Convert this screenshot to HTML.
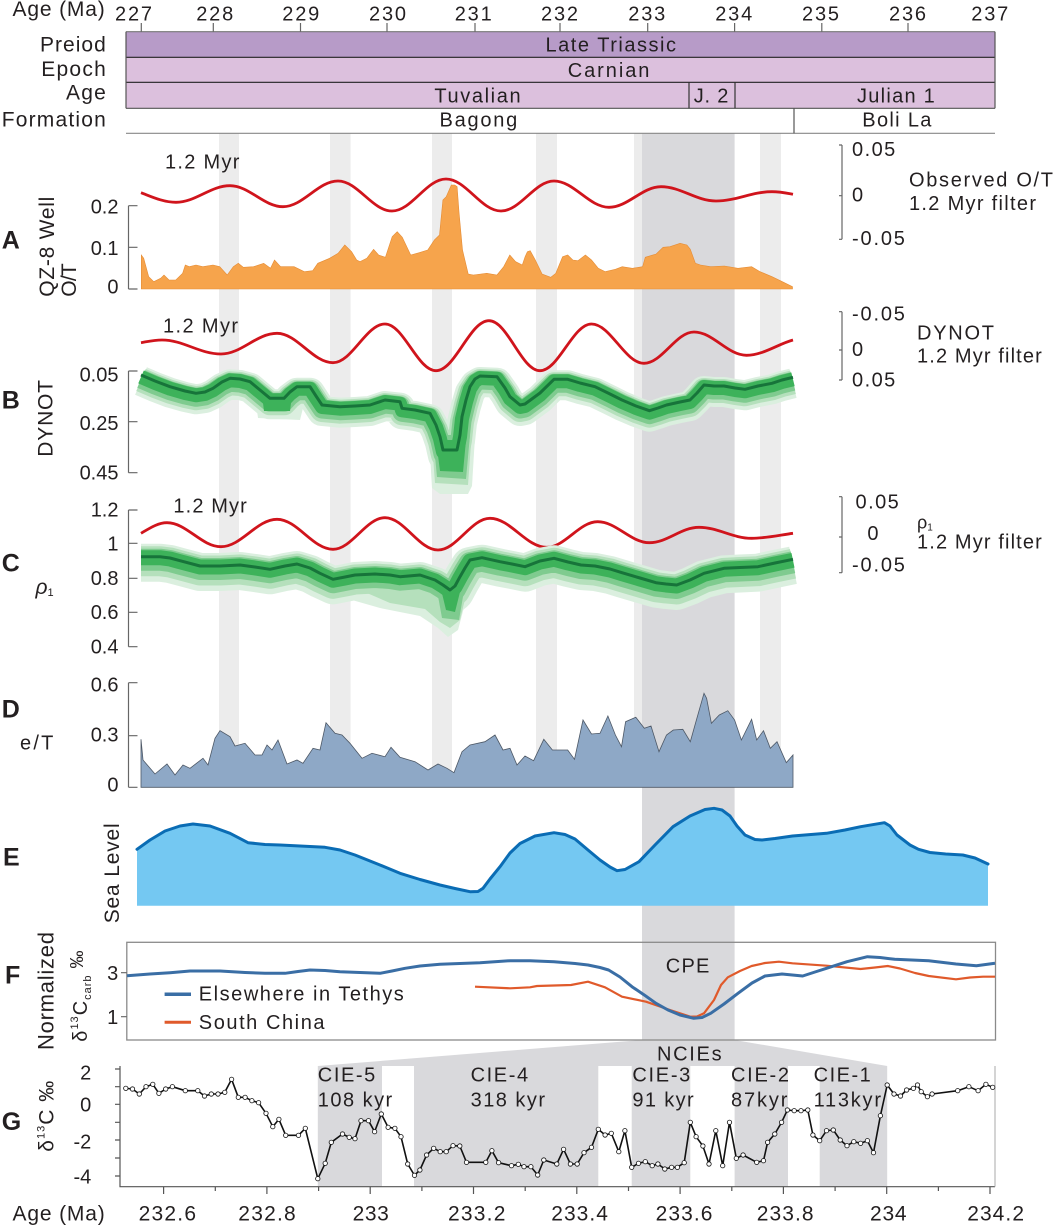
<!DOCTYPE html>
<html><head><meta charset="utf-8">
<style>
html,body{margin:0;padding:0;background:#fff}
svg{display:block}
text{font-family:"Liberation Sans",Arial,sans-serif;fill:#231f20}
.b{font-weight:bold;font-size:25px}
</style></head><body>
<svg width="1054" height="1227" viewBox="0 0 1054 1227" xmlns="http://www.w3.org/2000/svg">
<defs>
<marker id="m" markerWidth="6" markerHeight="6" refX="3" refY="3" markerUnits="userSpaceOnUse"><circle cx="3" cy="3" r="2.2" fill="#fff" stroke="#111" stroke-width="0.8"/></marker>
</defs>
<rect width="1054" height="1227" fill="#fff"/>

<!-- background bands -->
<g fill="#ececec">
<rect x="219" y="133.3" width="20" height="654"/>
<rect x="330" y="133.3" width="20.6" height="654"/>
<rect x="432" y="133.3" width="20" height="654"/>
<rect x="536" y="133.3" width="21" height="654"/>
<rect x="634" y="133.3" width="21" height="654"/>
<rect x="760" y="133.3" width="21" height="654"/>
</g>
<g fill="#d9d9dc">
<rect x="642" y="133.3" width="92.6" height="906.7"/>
<polygon points="642,1040 734.6,1040 887.2,1066 317.8,1066"/>
<rect x="317.8" y="1066" width="64.2" height="120.7"/>
<rect x="414" y="1066" width="184.3" height="120.7"/>
<rect x="631.7" y="1066" width="58.6" height="120.7"/>
<rect x="734.6" y="1066" width="53.4" height="120.7"/>
<rect x="819.7" y="1066" width="67.5" height="120.7"/>
</g>

<!-- top strip -->
<rect x="126" y="31.7" width="869" height="25.6" fill="#b79bc8"/>
<rect x="126" y="57.3" width="869" height="51" fill="#dcc0dd"/>
<g stroke-width="1.2" fill="none">
<line x1="126" y1="31.7" x2="995" y2="31.7" stroke="#777"/>
<line x1="126" y1="57.3" x2="995" y2="57.3" stroke="#222"/>
<line x1="126" y1="82.3" x2="995" y2="82.3" stroke="#222"/>
<line x1="126" y1="108.3" x2="995" y2="108.3" stroke="#555"/>
<line x1="126" y1="31.7" x2="126" y2="108.3" stroke="#555"/>
<line x1="995" y1="31.7" x2="995" y2="108.3" stroke="#555"/>
<line x1="689" y1="82.3" x2="689" y2="108.3" stroke="#333"/>
<line x1="735" y1="82.3" x2="735" y2="108.3" stroke="#333"/>
<line x1="126" y1="133.3" x2="995" y2="133.3" stroke="#888"/>
<line x1="794" y1="108.3" x2="794" y2="133.3" stroke="#555"/>
<path d="M141.3 23V31.7M213.3 23V31.7M300.5 23V31.7M387 23V31.7M475 23V31.7M560 23V31.7M647.7 23V31.7M734.6 23V31.7M821.8 23V31.7M908 23V31.7" stroke="#666"/>
</g>
<g font-size="20">
<text x="12.5" y="16" textLength="92.3" font-size="21">Age (Ma)</text>
<text x="115" y="20.5" textLength="37">227</text>
<text x="196.2" y="20.5" textLength="37">228</text>
<text x="282.3" y="20.5" textLength="37">229</text>
<text x="369" y="20.5" textLength="37">230</text>
<text x="454.7" y="20.5" textLength="37">231</text>
<text x="541" y="20.5" textLength="37">232</text>
<text x="628.3" y="20.5" textLength="37">233</text>
<text x="715.2" y="20.5" textLength="37">234</text>
<text x="802" y="20.5" textLength="37">235</text>
<text x="889" y="20.5" textLength="37">236</text>
<text x="971.3" y="20.5" textLength="37">237</text>
<text x="40" y="51.7" textLength="65.8" font-size="21">Preiod</text>
<text x="41.2" y="76" textLength="64.6" font-size="21">Epoch</text>
<text x="66" y="99.3" textLength="39.8" font-size="21">Age</text>
<text x="1.7" y="126.7" textLength="104.1" font-size="21">Formation</text>
<text x="545.5" y="51.7" textLength="130.5">Late Triassic</text>
<text x="567.7" y="77" textLength="81.7">Carnian</text>
<text x="434.4" y="102.7" textLength="86.2">Tuvalian</text>
<text x="693.7" y="102.7" textLength="34.7">J. 2</text>
<text x="857" y="102.7" textLength="77.8">Julian 1</text>
<text x="439.5" y="126.7" textLength="77.7">Bagong</text>
<text x="862.3" y="126.7" textLength="69.1">Boli La</text>
</g>

<!-- left axes A-D -->
<g stroke="#666" stroke-width="1.2" fill="none">
<path d="M128.5 205.7V289M128.5 205.7H137.5M128.5 247.3H137.5M128.5 289H137.5"/>
<path d="M128.5 371V472.7M128.5 371H137.5M128.5 421.7H137.5M128.5 472.7H137.5"/>
<path d="M128.5 510V646.7M128.5 510H137.5M128.5 543.3H137.5M128.5 578.3H137.5M128.5 612.3H137.5M128.5 646.7H137.5"/>
<path d="M128.5 682.7V787.3M128.5 682.7H137.5M128.5 735.7H137.5M128.5 787.3H137.5"/>
<path d="M842 145V239.3M839 145H842M839 195.7H842M839 239.3H842"/>
<path d="M842 311.7V380M839 311.7H842M839 350H842M839 380H842"/>
<path d="M842 496.7V572.7M839 496.7H842M839 537H842M839 572.7H842"/>
</g>
<g font-size="20" text-anchor="end">
<text x="118.5" y="213.3">0.2</text>
<text x="118.5" y="255">0.1</text>
<text x="118.5" y="293.3">0</text>
<text x="118.5" y="381.7">0.05</text>
<text x="118.5" y="430">0.25</text>
<text x="118.5" y="479.3">0.45</text>
<text x="118.5" y="516.7">1.2</text>
<text x="118.5" y="550.7">1</text>
<text x="118.5" y="585">0.8</text>
<text x="118.5" y="619">0.6</text>
<text x="118.5" y="653.7">0.4</text>
<text x="118.5" y="691.7">0.6</text>
<text x="118.5" y="741.7">0.3</text>
<text x="118.5" y="791.7">0</text>
</g>

<!-- panel letters -->
<text class="b" x="1.7" y="248.3">A</text>
<text class="b" x="1.7" y="408.3">B</text>
<text class="b" x="1.7" y="571.7">C</text>
<text class="b" x="1.7" y="717.3">D</text>
<text class="b" x="3" y="865.7">E</text>
<text class="b" x="5" y="983.3">F</text>
<text class="b" x="1.7" y="1130">G</text>

<!-- rotated labels -->
<g font-size="21">
<text transform="translate(54,296.7) rotate(-90)" textLength="100">QZ-8 Well</text>
<text transform="translate(76,296.7) rotate(-90)" textLength="33.4">O/T</text>
<text transform="translate(52.4,456.7) rotate(-90)" textLength="76.7">DYNOT</text>
<text transform="translate(119,923.3) rotate(-90)" textLength="100">Sea Level</text>
<text transform="translate(53.3,1050) rotate(-90)" textLength="118" font-size="22">Normalized</text>
<text transform="translate(87,1041.7) rotate(-90)" font-size="20" letter-spacing="1">δ<tspan font-size="11" dy="-9">13</tspan><tspan dy="9">C</tspan><tspan font-size="11" dy="4">carb</tspan><tspan dy="-8" font-size="18"> ‰</tspan></text>
<text transform="translate(53.3,1151.7) rotate(-90)" font-size="21" letter-spacing="1">δ<tspan font-size="11" dy="-9">13</tspan><tspan dy="9">C ‰</tspan></text>
</g>
<text x="20" y="749.3" font-size="20" textLength="33.4">e/T</text>
<text x="35.5" y="594" font-size="21" font-style="italic">ρ<tspan font-size="11" font-style="normal" dy="2">1</tspan></text>

<!-- Panel A -->
<polygon fill="#f6a44c" stroke="#e58c35" stroke-width="0.6" points="141.3,289 141.3,255 143.7,258.3 148.7,276.7 153.8,281.7 160.6,278.3 164,275 169,280 175.8,280 182.6,273.3 185.3,265 189.3,266.7 196,265 202.8,266.7 213,265 219.7,266.7 227.2,275 233.3,266.7 238.3,263.3 243.4,267.3 253.5,266.7 263.7,263.3 270.5,268.3 274.5,260 280.6,266.7 294.1,266.7 304.3,271.7 312.7,270.7 317.8,263.3 329.6,258.3 338.1,253.3 344.8,245 351.6,251.7 356.7,260 360,261.7 366.8,258.3 373.6,249.3 378.6,255 385.4,257.3 392.2,236.7 397.2,231.7 402.3,237.3 410.7,255 419.2,252.7 427.7,250 434.4,240 439.5,235 442.9,200 446.2,196.7 451.3,185 454.7,185 457.1,186.7 459.1,213.3 462.5,250 468.2,274 473.3,275 486.8,273.3 497,275 503.7,266.7 509.8,255 515.6,261.7 522.3,265 525.1,256.7 527.4,251.7 530.2,250.7 535.3,260 542.1,274 550.7,277.3 555.8,273.3 562.6,256.7 567.7,255 572.8,260 577.9,260.7 585.4,255 591.5,260 598.3,268.3 605.1,271.7 615.4,269.3 622.2,266.7 632.4,268.3 642.6,266.7 645.3,257.3 656.2,254 663.1,247.3 669.9,246.7 680.1,243.3 686.9,245 690.3,249.3 695.4,263.3 700.5,265 710.7,266.7 724.4,266 738,268.3 751.6,266.7 760.1,271.7 772,276.7 782.3,281.7 792.5,286.7 792.5,289"/>
<g fill="none" stroke="#d0141c" stroke-width="2.8">
<path d="M141 192.7C150 196 163 202.3 176 202.3C195.7 202.3 210.3 185.7 230 185.7C249.3 185.7 263.7 206.7 283 206.7C303 206.7 318 181 338 181C357.7 181 372.3 211 392 211C411.7 211 426.3 179 446 179C466 179 481 211 501 211C520.3 211 534.7 181 554 181C574 181 589 207.3 609 207.3C627.9 207.3 642.1 186.7 661 186.7C681 186.7 696 201 716 201C736.4 201 751.6 191.7 772 191.7C780 191.7 786 193 793 194.3"/>
<path d="M141 342.7C148 341.5 154 340 162 340C183.5 340 199.5 354 221 354C241.4 354 256.6 333.3 277 333.3C297.4 333.3 312.6 362.7 333 362.7C351.9 362.7 366.1 324 385 324C403.6 324 417.4 370.7 436 370.7C455.3 370.7 469.7 320.7 489 320.7C507.6 320.7 521.4 370.7 540 370.7C558.7 370.7 572.8 324 591.5 324C610.6 324 624.9 363.3 644 363.3C662.2 363.3 675.8 332 694 332C713.1 332 727.4 355.3 746.5 355.3C763 355.3 778 344 793 340"/>
<path d="M141 533.3C150 528 158 522.7 167 522.7C186.7 522.7 201.3 546.7 221 546.7C241.4 546.7 256.6 519.3 277 519.3C297.4 519.3 312.6 549.3 333 549.3C351.9 549.3 366.1 517.7 385 517.7C404.3 517.7 418.7 550 438 550C456.9 550 471.1 518.3 490 518.3C510.6 518.3 526 547.3 546.6 547.3C565.2 547.3 579.1 521.7 597.7 521.7C616.5 521.7 630.6 542.7 649.4 542.7C667.5 542.7 680.9 527.3 699 527.3C718.1 527.3 732.5 538.3 751.6 538.3C766 538.3 780 535 793 533.3"/>
</g>
<g font-size="20">
<text x="165" y="168.3" textLength="74.4">1.2 Myr</text>
<text x="163" y="332.3" textLength="75">1.2 Myr</text>
<text x="173.4" y="512.7" textLength="73.4">1.2 Myr</text>
<text x="852" y="156" textLength="43.3">0.05</text>
<text x="852" y="201.7">0</text>
<text x="852" y="245" textLength="52.9">-0.05</text>
<text x="909" y="186.7" textLength="144">Observed O/T</text>
<text x="909" y="210" textLength="127">1.2 Myr filter</text>
<text x="852" y="320.7" textLength="52.9">-0.05</text>
<text x="852" y="356">0</text>
<text x="852" y="386.7" textLength="43.3">0.05</text>
<text x="917" y="339.3" textLength="77">DYNOT</text>
<text x="917" y="362.3" textLength="124.8">1.2 Myr filter</text>
<text x="855.5" y="508.3" textLength="43.3">0.05</text>
<text x="867.4" y="540">0</text>
<text x="852" y="571.7" textLength="52.9">-0.05</text>
<text x="917" y="528.3" font-size="18">ρ<tspan font-size="10" dy="2">1</tspan></text>
<text x="917" y="548.3" textLength="124.8">1.2 Myr filter</text>
</g>

<!-- Panel B bands -->
<g fill="none" stroke-linejoin="round" stroke-linecap="butt">
<g transform="translate(0,6)"><polyline stroke="#dbefdf" stroke-width="30" points="141,375 155,381 170,386.7 185,391 196,393.3 205,392 213,388.3 222,382 230,378.3 240,379 250,381.7 260,390 270,398.3 284,398.3 290,392 297,386.7 310,386.7 316,396 322,405 340,406.7 355,406 370,405 385,400 400,401.7 402,408.3 415,410 430,413.3 436,425 440,436.7 443,450 457,450 460,435 462,416.7 466,400 470,386.7 475,379 480,376 497,376.7 505,388 510,396.7 520,405 525,404 540,393 554,379.3 567.7,379.3 580,383 595,386.7 610,394 622,400 636,406 649.4,410.7 658,408 666.5,405 680,402 690,400 697,393 704,385 714,386 724,386 735,388 745,389.3 758,386 772,383.3 782,380 793,377.3"/></g>
<polygon fill="#dbefdf" stroke="none" points="428,420 432,488 440,494 468,494 472,486 476,420"/>
<polygon fill="#dbefdf" stroke="none" points="255,395 258,418 300,420 305,400"/>
<g transform="translate(0,5)"><polyline stroke="#b5e0bc" stroke-width="24" points="141,375 155,381 170,386.7 185,391 196,393.3 205,392 213,388.3 222,382 230,378.3 240,379 250,381.7 260,390 270,398.3 284,398.3 290,392 297,386.7 310,386.7 316,396 322,405 340,406.7 355,406 370,405 385,400 400,401.7 402,408.3 415,410 430,413.3 436,425 440,436.7 443,450 457,450 460,435 462,416.7 466,400 470,386.7 475,379 480,376 497,376.7 505,388 510,396.7 520,405 525,404 540,393 554,379.3 567.7,379.3 580,383 595,386.7 610,394 622,400 636,406 649.4,410.7 658,408 666.5,405 680,402 690,400 697,393 704,385 714,386 724,386 735,388 745,389.3 758,386 772,383.3 782,380 793,377.3"/></g>
<polygon fill="#b5e0bc" stroke="none" points="431,430 435,483 468,485 472,430"/>
<g transform="translate(0,4)"><polyline stroke="#7fcb8f" stroke-width="19" points="141,375 155,381 170,386.7 185,391 196,393.3 205,392 213,388.3 222,382 230,378.3 240,379 250,381.7 260,390 270,398.3 284,398.3 290,392 297,386.7 310,386.7 316,396 322,405 340,406.7 355,406 370,405 385,400 400,401.7 402,408.3 415,410 430,413.3 436,425 440,436.7 443,450 457,450 460,435 462,416.7 466,400 470,386.7 475,379 480,376 497,376.7 505,388 510,396.7 520,405 525,404 540,393 554,379.3 567.7,379.3 580,383 595,386.7 610,394 622,400 636,406 649.4,410.7 658,408 666.5,405 680,402 690,400 697,393 704,385 714,386 724,386 735,388 745,389.3 758,386 772,383.3 782,380 793,377.3"/></g>
<polygon fill="#7fcb8f" stroke="none" points="433,435 437,477 466,479 470,435"/>
<g transform="translate(0,2)"><polyline stroke="#3db25a" stroke-width="14" points="141,375 155,381 170,386.7 185,391 196,393.3 205,392 213,388.3 222,382 230,378.3 240,379 250,381.7 260,390 270,398.3 284,398.3 290,392 297,386.7 310,386.7 316,396 322,405 340,406.7 355,406 370,405 385,400 400,401.7 402,408.3 415,410 430,413.3 436,425 440,436.7 443,450 457,450 460,435 462,416.7 466,400 470,386.7 475,379 480,376 497,376.7 505,388 510,396.7 520,405 525,404 540,393 554,379.3 567.7,379.3 580,383 595,386.7 610,394 622,400 636,406 649.4,410.7 658,408 666.5,405 680,402 690,400 697,393 704,385 714,386 724,386 735,388 745,389.3 758,386 772,383.3 782,380 793,377.3"/></g>
<polygon fill="#3db25a" stroke="none" points="436,440 440,471 463,472 466,440"/>
<polygon fill="#3db25a" stroke="none" points="262,395 264,411 290,411 292,395"/>
<polyline stroke="#17743a" stroke-width="3" points="141,375 155,381 170,386.7 185,391 196,393.3 205,392 213,388.3 222,382 230,378.3 240,379 250,381.7 260,390 270,398.3 284,398.3 290,392 297,386.7 310,386.7 316,396 322,405 340,406.7 355,406 370,405 385,400 400,401.7 402,408.3 415,410 430,413.3 436,425 440,436.7 443,450 457,450 460,435 462,416.7 466,400 470,386.7 475,379 480,376 497,376.7 505,388 510,396.7 520,405 525,404 540,393 554,379.3 567.7,379.3 580,383 595,386.7 610,394 622,400 636,406 649.4,410.7 658,408 666.5,405 680,402 690,400 697,393 704,385 714,386 724,386 735,388 745,389.3 758,386 772,383.3 782,380 793,377.3"/>
</g>

<!-- Panel C bands -->
<g fill="none" stroke-linejoin="round" stroke-linecap="butt">
<polygon fill="#dbefdf" stroke="none" points="320,588 345,598 380,608 420,616 438,628 448,637 458,630 466,600 470,575 320,575"/>
<g transform="translate(0,6)"><polyline stroke="#dbefdf" stroke-width="38" points="141,556.7 160,556.7 170,558 180,560.7 200,566 220,566 240,565 255,567 270,569.3 285,566 297,564 310,568 320,573.3 333,579.3 345,577 355,575 375,574 390,575 400,576.7 420,575 435,580 443,585 450,590 455,586 460,576.7 465,568 470,560 482,557.7 500,561.7 512,564 525,566.7 540,561 554,558.3 568,562 581,565 595,566 610,569 622,572.7 640,578 656,582.7 666,584 676.7,585 690,580 704,573.3 724,568.3 740,567.5 758,566.7 775,563 793,559.3"/></g>
<polygon fill="#b5e0bc" stroke="none" points="360,590 390,603 425,609 440,622 450,628 460,620 466,595"/>
<g transform="translate(0,4.5)"><polyline stroke="#b5e0bc" stroke-width="30" points="141,556.7 160,556.7 170,558 180,560.7 200,566 220,566 240,565 255,567 270,569.3 285,566 297,564 310,568 320,573.3 333,579.3 345,577 355,575 375,574 390,575 400,576.7 420,575 435,580 443,585 450,590 455,586 460,576.7 465,568 470,560 482,557.7 500,561.7 512,564 525,566.7 540,561 554,558.3 568,562 581,565 595,566 610,569 622,572.7 640,578 656,582.7 666,584 676.7,585 690,580 704,573.3 724,568.3 740,567.5 758,566.7 775,563 793,559.3"/></g>
<g transform="translate(0,3)"><polyline stroke="#7fcb8f" stroke-width="22" points="141,556.7 160,556.7 170,558 180,560.7 200,566 220,566 240,565 255,567 270,569.3 285,566 297,564 310,568 320,573.3 333,579.3 345,577 355,575 375,574 390,575 400,576.7 420,575 435,580 443,585 450,590 455,586 460,576.7 465,568 470,560 482,557.7 500,561.7 512,564 525,566.7 540,561 554,558.3 568,562 581,565 595,566 610,569 622,572.7 640,578 656,582.7 666,584 676.7,585 690,580 704,573.3 724,568.3 740,567.5 758,566.7 775,563 793,559.3"/></g>
<polygon fill="#7fcb8f" stroke="none" points="436,585 442,618 459,620 465,585"/>
<g transform="translate(0,1)"><polyline stroke="#3db25a" stroke-width="15" points="141,556.7 160,556.7 170,558 180,560.7 200,566 220,566 240,565 255,567 270,569.3 285,566 297,564 310,568 320,573.3 333,579.3 345,577 355,575 375,574 390,575 400,576.7 420,575 435,580 443,585 450,590 455,586 460,576.7 465,568 470,560 482,557.7 500,561.7 512,564 525,566.7 540,561 554,558.3 568,562 581,565 595,566 610,569 622,572.7 640,578 656,582.7 666,584 676.7,585 690,580 704,573.3 724,568.3 740,567.5 758,566.7 775,563 793,559.3"/></g>
<polygon fill="#3db25a" stroke="none" points="440,585 446,610 455,612 461,588"/>
<polyline stroke="#17743a" stroke-width="3" points="141,556.7 160,556.7 170,558 180,560.7 200,566 220,566 240,565 255,567 270,569.3 285,566 297,564 310,568 320,573.3 333,579.3 345,577 355,575 375,574 390,575 400,576.7 420,575 435,580 443,585 450,590 455,586 460,576.7 465,568 470,560 482,557.7 500,561.7 512,564 525,566.7 540,561 554,558.3 568,562 581,565 595,566 610,569 622,572.7 640,578 656,582.7 666,584 676.7,585 690,580 704,573.3 724,568.3 740,567.5 758,566.7 775,563 793,559.3"/>
</g>

<!-- Panel D -->
<polygon fill="#8ea8c6" stroke="#4d5866" stroke-width="0.8" points="141,787.3 141,739.3 143,760 155,774 167,764 175,775 183,765 190,768.3 203,758.3 208,765 215,738.3 220,730.7 230,736.7 235,746 245,743.3 255,755 262,755 267,745 272,750 278,740 287,764 297,760 303,763.3 313,748.3 320,750 326,722.7 335,733.3 342,735 350,743.3 362,758.3 372,753.3 385,756.7 391,747.3 400,757.3 415,761.7 428,770 438,764 447,768.3 454,772.7 462,751.7 470,745 485,741.7 495,735 503,750 510,748.3 517,765 525,756 533.6,760.7 543.8,739.3 552.4,750 567.7,750 574.5,759.3 583,720 591.5,734 600,733.3 607.9,716 615.4,735 621.5,746.7 625.6,721.7 635.8,717.3 644.3,728.3 651,726 659,751.7 666.5,735 673.3,730 682.8,729.3 690.3,741.7 696.4,720 704,693.3 706.6,698.3 711.4,723.3 719.3,715 727.8,710.7 734.6,720 741.4,740 751.6,719.3 756.7,740 763.5,730.7 770.3,748.3 777,741.7 786.3,762.7 793,755 793,787.3"/>

<!-- Panel E -->
<polygon fill="#74c8f2" points="137,905.7 137,849.3 150,840 165,831 180,826 193,824 210,826 230,833.3 248,842.7 265,844.5 280,845 325,847.3 340,850 355,855 380,865 400,873.3 420,879.5 440,885 455,888.5 470,891.7 478,891.5 483,888.3 490,879 500,866.7 510,853 520,843.5 535,836 554,832.7 565,834.5 575,839 588,850 600,860 610,867 617,870.7 625,869.5 639,861.7 655,845 673,826.7 690,816 705,809.5 714,808.3 722,810 730,816 737,826 745,835 755,839.5 762,840 775,838.5 792.5,836 826.5,833.3 845,830 860.6,826.7 884.4,822.7 890,826 897,835 910,845 918.5,849.3 930,852.5 945.7,854 962.8,855 975,858 988,864 988,905.7"/>
<polyline fill="none" stroke="#0a6cb4" stroke-width="3" stroke-linejoin="round" stroke-linecap="round" points="137,849.3 150,840 165,831 180,826 193,824 210,826 230,833.3 248,842.7 265,844.5 280,845 325,847.3 340,850 355,855 380,865 400,873.3 420,879.5 440,885 455,888.5 470,891.7 478,891.5 483,888.3 490,879 500,866.7 510,853 520,843.5 535,836 554,832.7 565,834.5 575,839 588,850 600,860 610,867 617,870.7 625,869.5 639,861.7 655,845 673,826.7 690,816 705,809.5 714,808.3 722,810 730,816 737,826 745,835 755,839.5 762,840 775,838.5 792.5,836 826.5,833.3 845,830 860.6,826.7 884.4,822.7 890,826 897,835 910,845 918.5,849.3 930,852.5 945.7,854 962.8,855 975,858 988,864"/>

<!-- Panel F -->
<rect x="126.8" y="942.3" width="868.7" height="97.7" fill="none" stroke="#8a8a8a" stroke-width="1.3"/>
<path d="M121 972.7H126.8M121 1016.7H126.8" stroke="#666" stroke-width="1.2"/>
<g font-size="20" text-anchor="end">
<text x="118.3" y="980">3</text>
<text x="118.3" y="1024">1</text>
</g>
<polyline fill="none" stroke="#e05a2b" stroke-width="2.2" stroke-linejoin="round" points="475,986.7 510,988.3 530,987.3 537,986 571,985 588,981.7 605,987.3 622,996.7 646,1001.7 670,1010 690.3,1016.7 697,1016.5 704,1013.3 714,1000 721,985 727.8,977.3 740,971 751.6,966 765,963 778.9,961.7 792.5,963.3 826.5,965.7 860.6,969 875,967.5 887.8,966 900,968.5 915,973 928.7,976 956,979.3 970,977.5 983,976.7 995,976.7"/>
<polyline fill="none" stroke="#3a6ea5" stroke-width="3" stroke-linejoin="round" points="127,975.7 150,974 170,972.7 190,971 220,971 245,972.5 265,973.3 285,973.3 298,971.5 310,970 325,970.5 340,971.7 360,972.5 380,973.3 392,971 405,968.3 420,966 440,964.3 460,963.5 480,962.7 510,960.7 530,960.7 554,961.7 575,963.5 588,965 600,967.5 608.6,970 620,977 632,986.7 645,995.5 656,1003.3 668,1010 680,1015 693.7,1018.3 702,1017.5 710.7,1013.3 724,1004 738,993.3 752,983 765,976 782,974 802.7,976 815,972 826.5,968.3 847,961.7 867.4,956.7 880,957.5 894.7,959.3 928.7,960.7 956,964 976.4,965.7 995,963.3"/>
<line x1="164.6" y1="994.3" x2="191" y2="994.3" stroke="#3a6ea5" stroke-width="3.5"/>
<line x1="164.6" y1="1022.3" x2="191" y2="1022.3" stroke="#e05a2b" stroke-width="3"/>
<g font-size="20">
<text x="198.8" y="1000.7" textLength="205">Elsewhere in Tethys</text>
<text x="198.8" y="1029" textLength="125.7">South China</text>
<text x="665.8" y="972.3" textLength="43.6">CPE</text>
<text x="657" y="1060.7" textLength="64.6">NCIEs</text>
</g>

<!-- Panel G -->
<g stroke="#555" stroke-width="1.2" fill="none">
<path d="M120 1066V1186.7H995"/>
<path d="M115 1069H120M115 1086.7H120M115 1104.3H120M115 1122.3H120M115 1140H120M115 1158H120M115 1176H120"/>
<path d="M163.6 1186.7V1194M266.9 1186.7V1194M370.2 1186.7V1194M473.5 1186.7V1194M576.8 1186.7V1194M680.1 1186.7V1194M783.4 1186.7V1194M886.7 1186.7V1194M990 1186.7V1194"/>
<path d="M215.3 1186.7V1191M318.6 1186.7V1191M421.9 1186.7V1191M525.2 1186.7V1191M628.5 1186.7V1191M731.8 1186.7V1191M835.1 1186.7V1191M938.4 1186.7V1191"/>
</g>
<line x1="995" y1="1066" x2="995" y2="1186.7" stroke="#aaa" stroke-width="1"/>
<polyline fill="none" stroke="#111" stroke-width="1.6" stroke-linejoin="round" marker-start="url(#m)" marker-mid="url(#m)" marker-end="url(#m)" points="125.8,1088.3 132.5,1089 139.3,1094 146,1086.7 152.8,1084.3 158.9,1093.3 165.7,1089 172.4,1086.7 185.3,1090.7 197.8,1090.7 204.5,1096 211.3,1094 218,1094 224.8,1092.3 231.6,1079.3 238.3,1097.3 245.1,1097.3 251.9,1100.7 258.6,1102.7 266,1113.3 272.8,1126.7 278.9,1119.3 285.7,1135.3 298.5,1135.3 305.3,1128.3 317.8,1178.7 325.2,1163.3 331.3,1142.3 342.5,1134 349.2,1137.3 355,1138.7 361,1120.7 368.5,1120.7 374.6,1131.7 381.3,1114 388.1,1127.3 394.9,1128.3 401,1136.7 407.7,1164 414.5,1175.3 419.9,1170 426.6,1155 433.7,1148.3 440.2,1151.7 446.2,1151.7 453,1145.7 459.8,1146 466.5,1162.3 485.8,1162.3 491.9,1150.7 498.6,1162.7 511.5,1165.7 518.3,1164.3 524,1166.7 530.9,1166.7 537.7,1175 543.8,1160 556.8,1164 563.6,1149.3 570.4,1164 577.2,1164 584,1152.7 591.5,1147.3 598.3,1129.3 605.1,1135 611.3,1133.3 618.8,1151.7 624.9,1130.7 631.7,1167.3 638.5,1163.3 645.3,1161.7 652.2,1165.7 657.9,1164 664.8,1169 671.6,1167.3 677.4,1167.3 684.2,1162.7 690.3,1122.3 696.1,1136.7 702.9,1146 709,1164 715.8,1130.7 722.7,1165.7 729.5,1122.3 736.3,1158.3 743.1,1155 756.7,1162.3 763.5,1160.7 767.6,1142.3 774.8,1134 781.6,1122.3 787.4,1110 794.2,1110.7 801,1110.7 807.8,1110 812.9,1135 819.7,1140.7 826.5,1130.7 833.3,1130 840.2,1140 847,1145.7 853.8,1141.7 860.6,1143.3 867.4,1140.7 873.5,1152.7 880.4,1115.7 887.2,1085 894,1094 900.5,1096 906.6,1090 913.4,1088.3 917.5,1085 921.2,1091.7 927.4,1096.7 932.1,1094 957.7,1090.7 968.9,1086.7 978.1,1090.7 985.9,1084.3 992.7,1087.3"/>
<g font-size="20" text-anchor="end">
<text x="91.3" y="1079.3">2</text>
<text x="91.3" y="1111.7">0</text>
<text x="91.3" y="1148.3">-2</text>
<text x="91.3" y="1183.3">-4</text>
</g>
<g font-size="20">
<text x="317.8" y="1081.7" textLength="57.5">CIE-5</text>
<text x="317.8" y="1106.7" textLength="74.4">108 kyr</text>
<text x="470.6" y="1081.7" textLength="57.5">CIE-4</text>
<text x="470.6" y="1106.7" textLength="74.4">318 kyr</text>
<text x="632.4" y="1081.7" textLength="57.9">CIE-3</text>
<text x="632.4" y="1106.7" textLength="61.3">91 kyr</text>
<text x="731" y="1081.7" textLength="58">CIE-2</text>
<text x="731" y="1106.7" textLength="56.4">87kyr</text>
<text x="813.6" y="1081.7" textLength="57.2">CIE-1</text>
<text x="813.6" y="1106.7" textLength="67.4">113kyr</text>
</g>
<g font-size="21">
<text x="12.5" y="1220.5" textLength="92.3">Age (Ma)</text>
<text x="138.6" y="1220.5" textLength="57.4">232.6</text>
<text x="238.3" y="1220.5" textLength="57.4">232.8</text>
<text x="352.6" y="1220.5" textLength="36.2">233</text>
<text x="448" y="1220.5" textLength="57.4">233.2</text>
<text x="551.3" y="1220.5" textLength="56.6">233.4</text>
<text x="655.6" y="1220.5" textLength="56.8">233.6</text>
<text x="756.7" y="1220.5" textLength="56.9">233.8</text>
<text x="870" y="1220.5" textLength="36.6">234</text>
<text x="967.2" y="1220.5" textLength="56.8">234.2</text>
</g>
</svg>
</body></html>
